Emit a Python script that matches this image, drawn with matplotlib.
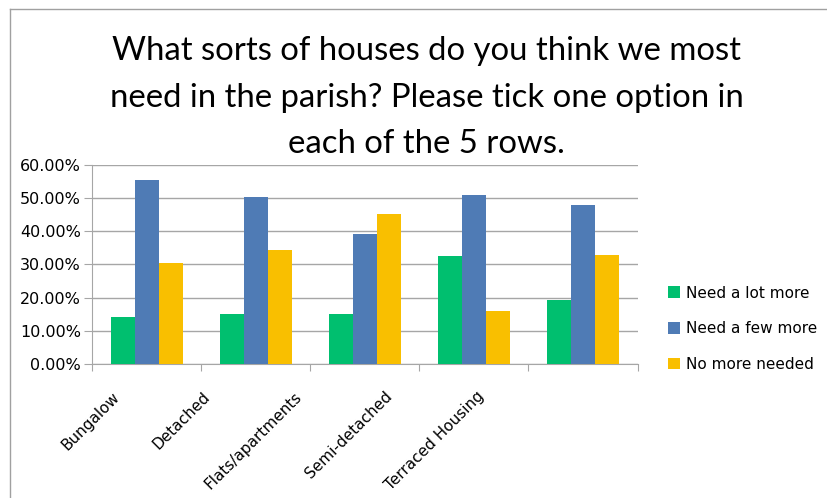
import numpy as np
import matplotlib
matplotlib.use("Agg")
import matplotlib.pyplot as plt
from matplotlib.lines import Line2D
from matplotlib.ticker import FixedLocator, PercentFormatter

categories = ["Bungalow", "Detached", "Flats/apartments", "Semi-detached", "Terraced Housing"]
need_lot_more = [14.3, 15.1, 15.1, 32.6, 19.2]
need_few_more = [55.4, 50.2, 39.3, 50.9, 47.9]
no_more_needed = [30.4, 34.4, 45.2, 16.0, 32.9]
series_names = ["Need a lot more", "Need a few more", "No more needed"]
series_colors = ["#00BF6F", "#4F7BB5", "#F9BF00"]

title_lines = ["What sorts of houses do you think we most",
               "need in the parish? Please tick one option in",
               "each of the 5 rows."]

grid_color = "#A6A6A6"
W, H = 827, 498


def main():
    fig = plt.figure(figsize=(W / 100, H / 100), dpi=100)
    ax = fig.add_axes([0.1112, 0.2685, 0.6598, 0.4008])

    x = np.arange(len(categories))
    width = 0.22
    values = [need_lot_more, need_few_more, no_more_needed]
    for i, (vals, name, color) in enumerate(zip(values, series_names, series_colors)):
        ax.bar(x + (i - 1) * width, vals, width=width, color=color, label=name, zorder=3)

    ax.set_xlim(-0.5, len(categories) - 0.5)
    ax.set_ylim(0, 60)
    ax.yaxis.set_major_locator(FixedLocator(np.arange(0, 61, 10)))
    ax.yaxis.set_major_formatter(PercentFormatter(decimals=2))
    ax.grid(axis="y", color=grid_color, linewidth=1.0, zorder=0)

    # tick marks sit on the group boundaries, labels are placed separately
    ax.set_xticks(np.arange(len(categories) + 1) - 0.5)
    ax.set_xticklabels([])
    ax.tick_params(axis="x", length=5, color=grid_color, direction="out")
    ax.tick_params(axis="y", length=6, color=grid_color, direction="out", labelsize=11.5, pad=2)

    for side in ["top", "right"]:
        ax.spines[side].set_visible(False)
    for side in ["left", "bottom"]:
        ax.spines[side].set_color(grid_color)

    # category labels are packed a bit tighter than the bar groups
    label_x = -0.272 + 0.835 * x
    trans = ax.get_xaxis_transform()
    for lx, name in zip(label_x, categories):
        ax.text(lx, -0.15, name, transform=trans, rotation=45, rotation_mode="anchor",
                ha="right", va="center", fontsize=11)

    ax.legend(loc="upper left", bbox_to_anchor=(1.044, 0.425), frameon=False,
              fontsize=11, handlelength=0.8, handleheight=0.8, handletextpad=0.4,
              labelspacing=1.35, borderaxespad=0)

    for baseline, line in zip([59.5, 107, 153], title_lines):
        fig.text(0.5157, 1 - baseline / H, line, ha="center", va="baseline",
                 fontsize=23.7, family="Lato")

    # chart frame
    fig.add_artist(Line2D([10 / W, 1], [1 - 9 / H, 1 - 9 / H], color="#A0A0A0", lw=1))
    fig.add_artist(Line2D([10 / W, 10 / W], [0, 1 - 9 / H], color="#A0A0A0", lw=1))

    fig.savefig("out.png", dpi=100)
    plt.close(fig)


if __name__ == "__main__":
    main()
